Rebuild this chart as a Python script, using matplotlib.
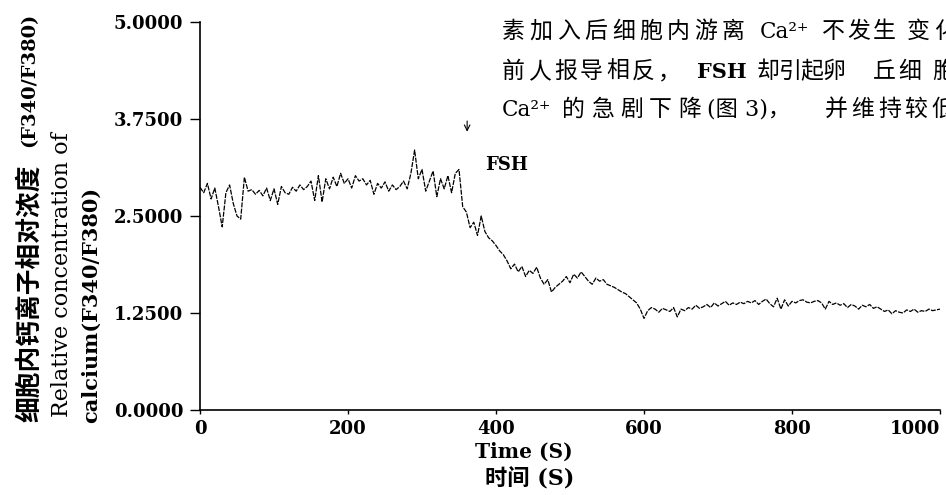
import numpy as np
import matplotlib
matplotlib.use("Agg")
import matplotlib.pyplot as plt

plt.rcParams['font.family'] = ['DejaVu Serif', 'Noto Sans CJK SC']

W, H = 946, 495

# sampling times (s) and F340/F380 ratio
time_s = np.arange(0, 1001, 5)
ratio = [
    2.87, 2.80, 2.92, 2.72, 2.86, 2.62, 2.36, 2.80, 2.90, 2.66, 2.50, 2.46,
    3.00, 2.82, 2.84, 2.78, 2.83, 2.76, 2.86, 2.70, 2.85, 2.65, 2.88, 2.80,
    2.78, 2.87, 2.82, 2.90, 2.84, 2.88,
    2.95, 2.70, 3.02, 2.68, 2.98, 2.85, 3.00, 2.88, 3.05, 2.92, 2.98, 2.86,
    3.02, 2.95, 2.98, 2.90, 2.96, 2.78, 2.92, 2.86,
    2.94, 2.82, 2.90, 2.84, 2.88, 2.95, 2.85, 3.05, 3.35, 2.98, 3.10, 2.82,
    2.95, 3.08, 2.75, 2.98, 2.85, 3.02, 2.80, 3.05,
    3.10, 2.62, 2.55, 2.35, 2.42, 2.25, 2.50, 2.30, 2.22, 2.18, 2.12, 2.05,
    2.00, 1.92, 1.82, 1.88, 1.78, 1.85, 1.72, 1.80,
    1.76, 1.84, 1.70, 1.62, 1.68, 1.52, 1.58, 1.62, 1.66, 1.72, 1.64, 1.75,
    1.70, 1.78, 1.72, 1.66, 1.62, 1.70, 1.66, 1.68,
    1.62, 1.60, 1.58, 1.55, 1.52, 1.50, 1.46, 1.42, 1.38, 1.30, 1.18, 1.28,
    1.32, 1.30, 1.26, 1.31, 1.29, 1.27, 1.32, 1.20,
    1.30, 1.28, 1.32, 1.30, 1.35, 1.31, 1.33, 1.36, 1.32, 1.38, 1.34, 1.37,
    1.40, 1.35, 1.38, 1.36, 1.39, 1.37, 1.40, 1.38,
    1.41, 1.36, 1.40, 1.43, 1.37, 1.33, 1.44, 1.30, 1.42, 1.34, 1.40, 1.38,
    1.41, 1.42, 1.39, 1.38, 1.40, 1.41, 1.38, 1.30,
    1.40, 1.36, 1.38, 1.35, 1.37, 1.32, 1.36, 1.34, 1.30, 1.35, 1.33, 1.36,
    1.31, 1.33, 1.30, 1.27, 1.29, 1.24, 1.28, 1.26,
    1.25, 1.29, 1.27, 1.30, 1.26, 1.28, 1.27, 1.30, 1.28, 1.29, 1.30,
]

y_ticks = [0.0, 1.25, 2.5, 3.75, 5.0]
y_ticklabels = ['0.0000', '1.2500', '2.5000', '3.7500', '5.0000']
x_ticks = [0, 200, 400, 600, 800, 1000]

fig = plt.figure(figsize=(W / 100, H / 100), dpi=100)
ax = fig.add_axes([200 / W, 1 - 410 / H, 740 / W, 388 / H])

ax.plot(time_s, ratio, color='black', lw=0.9, dashes=(4, 1))

ax.set_xlim(0, 1000)
ax.set_ylim(0, 5)
ax.set_yticks(y_ticks)
ax.set_yticklabels(y_ticklabels, fontweight='bold', fontsize=13)
ax.set_xticks(x_ticks)
ax.set_xticklabels([str(t) for t in x_ticks], fontweight='bold', fontsize=13)
ax.get_xticklabels()[-1].set_ha('right')
ax.tick_params(axis='y', direction='out', length=7, width=1, pad=5)
ax.tick_params(axis='x', direction='out', length=3, width=1, pad=4)
for s in ['top', 'right']:
    ax.spines[s].set_visible(False)
for s in ['left', 'bottom']:
    ax.spines[s].set_linewidth(1.2)

# FSH marker
ax.annotate('', xy=(361, 3.55), xytext=(361, 3.76),
            arrowprops=dict(arrowstyle='->', color='black', lw=0.8))
ax.text(385, 3.16, 'FSH', fontsize=13, fontweight='bold', va='center')


def ftxt(x, y, s, **kw):
    # place text with pixel coords measured from top-left
    return fig.text(x / W, 1 - y / H, s, **kw)


# axis titles
ftxt(524, 452, 'Time (S)', ha='center', va='center', fontsize=14.5, fontweight='bold')
ftxt(530, 479, '时间 (S)', ha='center', va='center', fontsize=16, fontweight='bold')
ftxt(29, 293, '细胞内钙离子相对浓度', rotation=90, ha='center', va='center',
     fontsize=18.5, fontweight='bold')
ftxt(29, 80, '(F340/F380)', rotation=90, ha='center', va='center',
     fontsize=14, fontweight='bold')
ftxt(62, 275, 'Relative concentration of', rotation=90,
     ha='center', va='center', fontsize=16)
ftxt(91, 305, 'calcium(F340/F380)', rotation=90,
     ha='center', va='center', fontsize=15, fontweight='bold')


# surrounding page text (justified, so characters are spread out)
def spread(s, x0, pitch, y, size=16.5):
    for i, ch in enumerate(s):
        ftxt(x0 + i * pitch, y, ch, ha='left', va='center', fontsize=size,
             fontweight='medium')


spread('素加入后细胞内游离', 502, 27.5, 32)
ftxt(760, 32, 'Ca²⁺', ha='left', va='center', fontsize=15.5)
spread('不发生', 822, 25.5, 32)
spread('变化', 907, 27, 32)

spread('前人报导相反，', 502, 26, 72)
ftxt(697, 72, 'FSH', ha='left', va='center', fontsize=15, fontweight='bold')
spread('却引起卵', 757, 21.7, 72)
spread('丘细', 873, 25, 72)
spread('胞', 932, 25, 72)

ftxt(502, 110, 'Ca²⁺', ha='left', va='center', fontsize=15.5)
spread('的急剧下降', 562, 29, 110)
ftxt(707, 110, '(图 3)，', ha='left', va='center', fontsize=16)
spread('并维持较', 825, 26.5, 110)
spread('低', 931, 26, 110)

fig.savefig('out.png', dpi=100)
